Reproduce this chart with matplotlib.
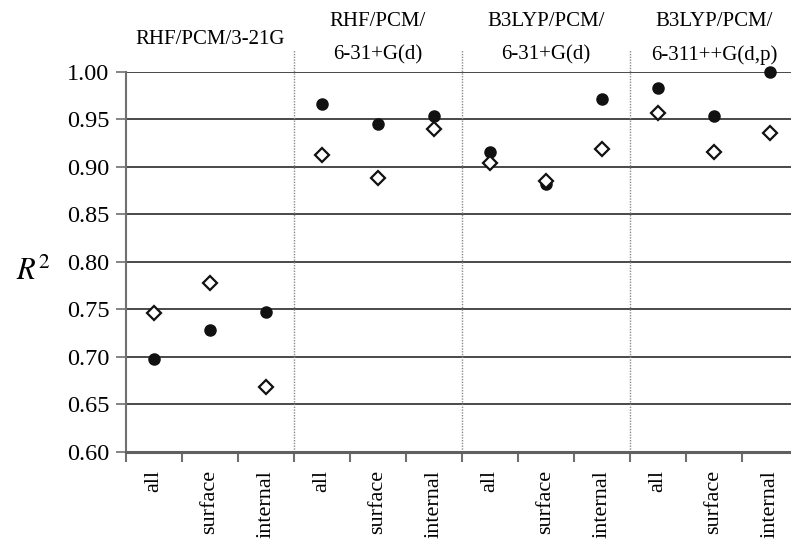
import matplotlib
matplotlib.use("Agg")
import matplotlib.pyplot as plt
import matplotlib.transforms as mtransforms
import numpy as np

# fit quality of each method, split by residue set
categories = ["all", "surface", "internal"] * 4
r2_filled = [0.698, 0.728, 0.747, 0.966, 0.945, 0.953, 0.915, 0.882, 0.971, 0.983, 0.953, 0.999]
r2_open = [0.746, 0.778, 0.668, 0.912, 0.888, 0.940, 0.904, 0.885, 0.919, 0.956, 0.915, 0.935]
methods = [("RHF/PCM/3-21G",), ("RHF/PCM/", "6-31+G(d)"),
           ("B3LYP/PCM/", "6-31+G(d)"), ("B3LYP/PCM/", "6-311++G(d,p)")]
yticks = [0.60, 0.65, 0.70, 0.75, 0.80, 0.85, 0.90, 0.95, 1.00]

plt.rcParams["font.family"] = ["Liberation Serif", "DejaVu Serif"]
plt.rcParams["mathtext.fontset"] = "stix"

W, H = 791, 553
fig = plt.figure(figsize=(W / 100, H / 100), dpi=100)
ax = fig.add_axes([126 / W, 1 - 452 / H, 672 / W, (452 - 71.5) / H])

x = np.arange(len(categories))
ax.set_xlim(-0.5, len(categories) - 0.5)
ax.set_ylim(0.60, 1.00)

# horizontal grid
for v in yticks[1:]:
    ax.axhline(v, color="#3a3a3a", lw=1.3, zorder=1)

# separators between methods, running up into the header
for b in [2.5, 5.5, 8.5]:
    ax.plot([b, b], [0.60, 1.023], ls=(0, (1, 1)), color="#8a8a8a", lw=1.0,
            clip_on=False, zorder=1)

ax.plot(x, r2_filled, "o", color="#111111", ms=8, zorder=3, clip_on=False)
ax.plot(x, r2_open, "D", mfc="white", mec="#111111", mew=1.6, ms=6.8, zorder=4,
        clip_on=False)

for side in ["top", "right"]:
    ax.spines[side].set_visible(False)
ax.spines["left"].set_color("#707070")
ax.spines["left"].set_linewidth(1.5)
ax.spines["bottom"].set_color("#606060")
ax.spines["bottom"].set_linewidth(2.2)

ax.set_yticks(yticks)
ax.set_yticklabels(["%.2f" % v for v in yticks], fontsize=17.5)
ax.tick_params(axis="y", direction="out", length=7, width=1.2, color="#707070", pad=5)

ax.set_xticks(x)
ax.set_xticklabels(categories, rotation=90, fontsize=16, va="top")
ax.set_xticks(np.arange(-0.5, len(categories)), minor=True)
ax.tick_params(axis="x", which="major", length=0, pad=13)
ax.tick_params(axis="x", which="minor", direction="out", length=7, width=1.5,
               color="#707070")

fig.text(33 / W, 1 - 272 / H, "$R^2$", fontsize=22, ha="center", va="center")

# method names above each group
trans = mtransforms.blended_transform_factory(ax.transData, fig.transFigure)
for i, lines in enumerate(methods):
    cx = 3 * i + 1
    if len(lines) == 1:
        ax.text(cx, 1 - 40 / H, lines[0], transform=trans, fontsize=15,
                ha="center", va="center")
    else:
        ax.text(cx, 1 - 22 / H, lines[0], transform=trans, fontsize=15,
                ha="center", va="center")
        ax.text(cx, 1 - 55 / H, lines[1], transform=trans, fontsize=15,
                ha="center", va="center")

fig.savefig("out.png", dpi=100)
